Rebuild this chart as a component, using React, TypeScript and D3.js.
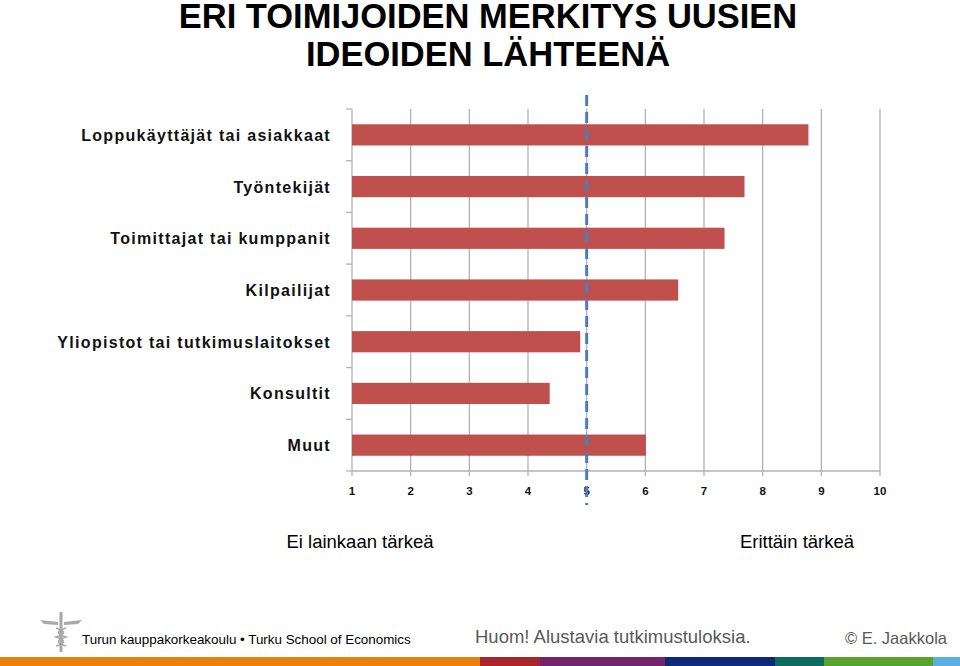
import React from "react";
import * as d3 from "d3";

const categories = [
  "Loppukäyttäjät tai asiakkaat",
  "Työntekijät",
  "Toimittajat tai kumppanit",
  "Kilpailijat",
  "Yliopistot tai tutkimuslaitokset",
  "Konsultit",
  "Muut",
];
const values = [8.78, 7.69, 7.35, 6.56, 4.89, 4.37, 6.01];
const ticks = [1, 2, 3, 4, 5, 6, 7, 8, 9, 10];
const refValue = 5;
const stripeColors = ["#e8820c", "#a6262c", "#74246b", "#0f2a78", "#0a6c5c", "#58a32a", "#5ab1e0"];
const stripeEnds = [480, 540, 665, 775, 824, 933, 960];

export default function App() {
  const W = 960, H = 666;
  const left = 352, right = 880, top = 109, bottom = 471;
  const x = d3.scaleLinear().domain([1, 10]).range([left, right]);
  const y = d3.scaleBand().domain(categories).range([top, bottom]).paddingInner(0.59).paddingOuter(0.295);
  const bandStep = (bottom - top) / categories.length;
  const font = "'Liberation Sans', Arial, sans-serif";
  let prev = 0;
  return (
    <svg width={W} height={H} style={{ position: "absolute", left: 0, top: 0 }}>
      <rect width={W} height={H} fill="#fff" />
      <text x={488} y={28} textAnchor="middle" fontFamily={font} fontWeight="bold" fontSize={34.5} fill="#000">ERI TOIMIJOIDEN MERKITYS UUSIEN</text>
      <text x={488} y={66} textAnchor="middle" fontFamily={font} fontWeight="bold" fontSize={34.5} fill="#000">IDEOIDEN LÄHTEENÄ</text>
      {ticks.slice(1).map((t) => (
        <line key={"g" + t} x1={x(t)} x2={x(t)} y1={top} y2={bottom + 5} stroke="#b3b3b3" strokeWidth={1.3} />
      ))}
      <line x1={left} x2={left} y1={top} y2={bottom + 5} stroke="#b3b3b3" strokeWidth={1.3} />
      <line x1={left} x2={right} y1={bottom} y2={bottom} stroke="#b3b3b3" strokeWidth={1.3} />
      {d3.range(categories.length + 1).map((i) => (
        <line key={"yt" + i} x1={left - 6} x2={left} y1={top + i * bandStep} y2={top + i * bandStep} stroke="#b3b3b3" strokeWidth={1.3} />
      ))}
      {categories.map((c, i) => (
        <rect key={c} x={x(1)} y={y(c)} width={x(values[i]) - x(1)} height={y.bandwidth()} fill="#c0504d" />
      ))}
      {categories.map((c) => (
        <text key={"l" + c} x={331} y={(y(c) as number) + y.bandwidth() / 2 + 6} textAnchor="end" fontFamily={font} fontWeight="bold" fontSize={16} letterSpacing={1.3} fill="#111">{c}</text>
      ))}
      {ticks.map((t) => (
        <text key={"t" + t} x={x(t)} y={495} textAnchor="middle" fontFamily={font} fontWeight="bold" fontSize={11.5} fill="#111">{t}</text>
      ))}
      <line x1={x(refValue)} x2={x(refValue)} y1={95} y2={505} stroke="#4a7ebb" strokeWidth={3} strokeDasharray="11,6" />
      <text x={360} y={548} textAnchor="middle" fontFamily={font} fontSize={18.5} fill="#000">Ei lainkaan tärkeä</text>
      <text x={797} y={548} textAnchor="middle" fontFamily={font} fontSize={18.5} fill="#000">Erittäin tärkeä</text>
      <g fill="#a8a8a8" stroke="none">
        <path d="M40,620 L58,622 L58,625 L44,624 Z" />
        <path d="M82,620 L64,622 L64,625 L78,624 Z" />
        <rect x={59.5} y={612} width={3} height={40} />
      </g>
      <path d="M56,628 C66,631 66,634 56,637 C66,640 66,643 56,646" fill="none" stroke="#a8a8a8" strokeWidth={1.5} />
      <path d="M66,628 C56,631 56,634 66,637 C56,640 56,643 66,646" fill="none" stroke="#a8a8a8" strokeWidth={1.5} />
      <text x={82} y={644} fontFamily={font} fontSize={13.4} fill="#000">Turun kauppakorkeakoulu • Turku School of Economics</text>
      <text x={475} y={643} fontFamily={font} fontSize={18.5} fill="#595959">Huom! Alustavia tutkimustuloksia.</text>
      <text x={947} y={644} textAnchor="end" fontFamily={font} fontSize={16.5} fill="#595959">© E. Jaakkola</text>
      {stripeColors.map((c, i) => {
        const x0 = prev;
        prev = stripeEnds[i];
        return <rect key={c} x={x0} y={657} width={stripeEnds[i] - x0} height={9} fill={c} />;
      })}
    </svg>
  );
}
